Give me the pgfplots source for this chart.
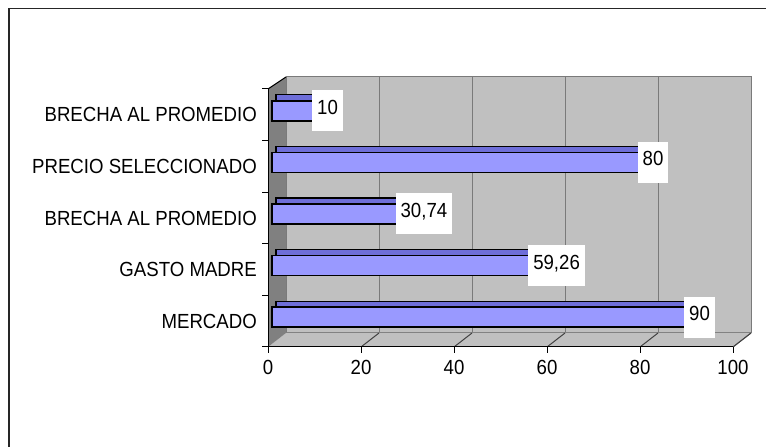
\documentclass[border=0pt]{standalone}
\usepackage{pgfplots}
\pgfplotsset{compat=1.18}
\usepackage{fontspec}
\setmainfont{Liberation Sans}[FakeStretch=0.912]

\definecolor{wall}{HTML}{C0C0C0}
\definecolor{side}{HTML}{808080}
\definecolor{edge}{HTML}{7A7A7A}
\definecolor{barfront}{HTML}{9999FF}
\definecolor{bartop}{HTML}{6E6ED8}
\definecolor{frame}{HTML}{262626}

\pgfplotsset{/pgf/number format/assume math mode=true}

\pgfplotstableread{
pos value
0 90
1 59.26
2 30.74
3 80
4 10
}\bardata

\begin{document}
\begin{tikzpicture}[x=1bp,y=1bp]
\useasboundingbox (0,0) rectangle (766,447);
\draw[frame, line width=1.5bp] (9,0) -- (9,438.5) -- (766,438.5);

% back wall with grid
\begin{axis}[
  at={(286bp,114bp)}, anchor=south west, scale only axis,
  width=465bp, height=256bp,
  xmin=0, xmax=100, ymin=0, ymax=1,
  xtick={20,40,60,80}, ytick=\empty, xticklabels={},
  major tick length=0pt,
  xmajorgrids, grid style={edge, line width=1bp},
  axis line style={edge, line width=1bp},
  axis background/.style={fill=wall},
]
\end{axis}

% floor and side wall
\fill[wall] (268,100) -- (733,100) -- (751,114) -- (286,114) -- cycle;
\draw[edge, line width=1bp] (733,100) -- (751,114);
\fill[side] (268,100) -- (286,114) -- (286,370) -- (268,358) -- cycle;
\foreach \k in {1,...,5} \draw[black!75, line width=1bp] (268+93*\k,100) -- (286+93*\k,114);
\draw[black, line width=1bp] (268,358) -- (286,370);

\begin{axis}[
  at={(268bp,100bp)}, anchor=south west, scale only axis,
  width=465bp, height=258bp,
  xmin=0, xmax=100, ymin=-0.5, ymax=4.5,
  axis x line*=bottom, axis y line*=left,
  axis line style={black, line width=1bp, -},
  tick align=outside, major tick length=6bp,
  tick style={black, line width=1bp},
  xtick={0,20,...,100},
  ytick={-0.5,0.5,1.5,2.5,3.5,4.5}, yticklabels={},
  extra y ticks={0,1,2,3,4},
  extra y tick labels={MERCADO,GASTO MADRE,BRECHA AL PROMEDIO,PRECIO SELECCIONADO,BRECHA AL PROMEDIO},
  extra y tick style={major tick length=0pt},
  tick label style={font=\fontsize{20.5}{24}\selectfont},
  yticklabel style={inner xsep=0pt, xshift=-11bp},
  xticklabel style={inner ysep=0pt, yshift=-7bp},
]
\addplot[xbar, bar width=20bp, fill=bartop, draw=black, line width=1.3bp,
  xshift=8bp, yshift=10bp] table[x=value, y=pos] {\bardata};
\addplot[xbar, bar width=20bp, fill=barfront, draw=black, line width=1.5bp,
  xshift=4bp, yshift=4bp,
  nodes near coords,
  nodes near coords style={anchor=center, xshift=9bp, fill=white, text=black,
    inner xsep=5bp, inner ysep=0pt, text height=24bp, text depth=17bp,
    font=\fontsize{20.5}{24}\selectfont,
    /pgf/number format/.cd, use comma, precision=2}]
  table[x=value, y=pos] {\bardata};
\end{axis}
\end{tikzpicture}
\end{document}
